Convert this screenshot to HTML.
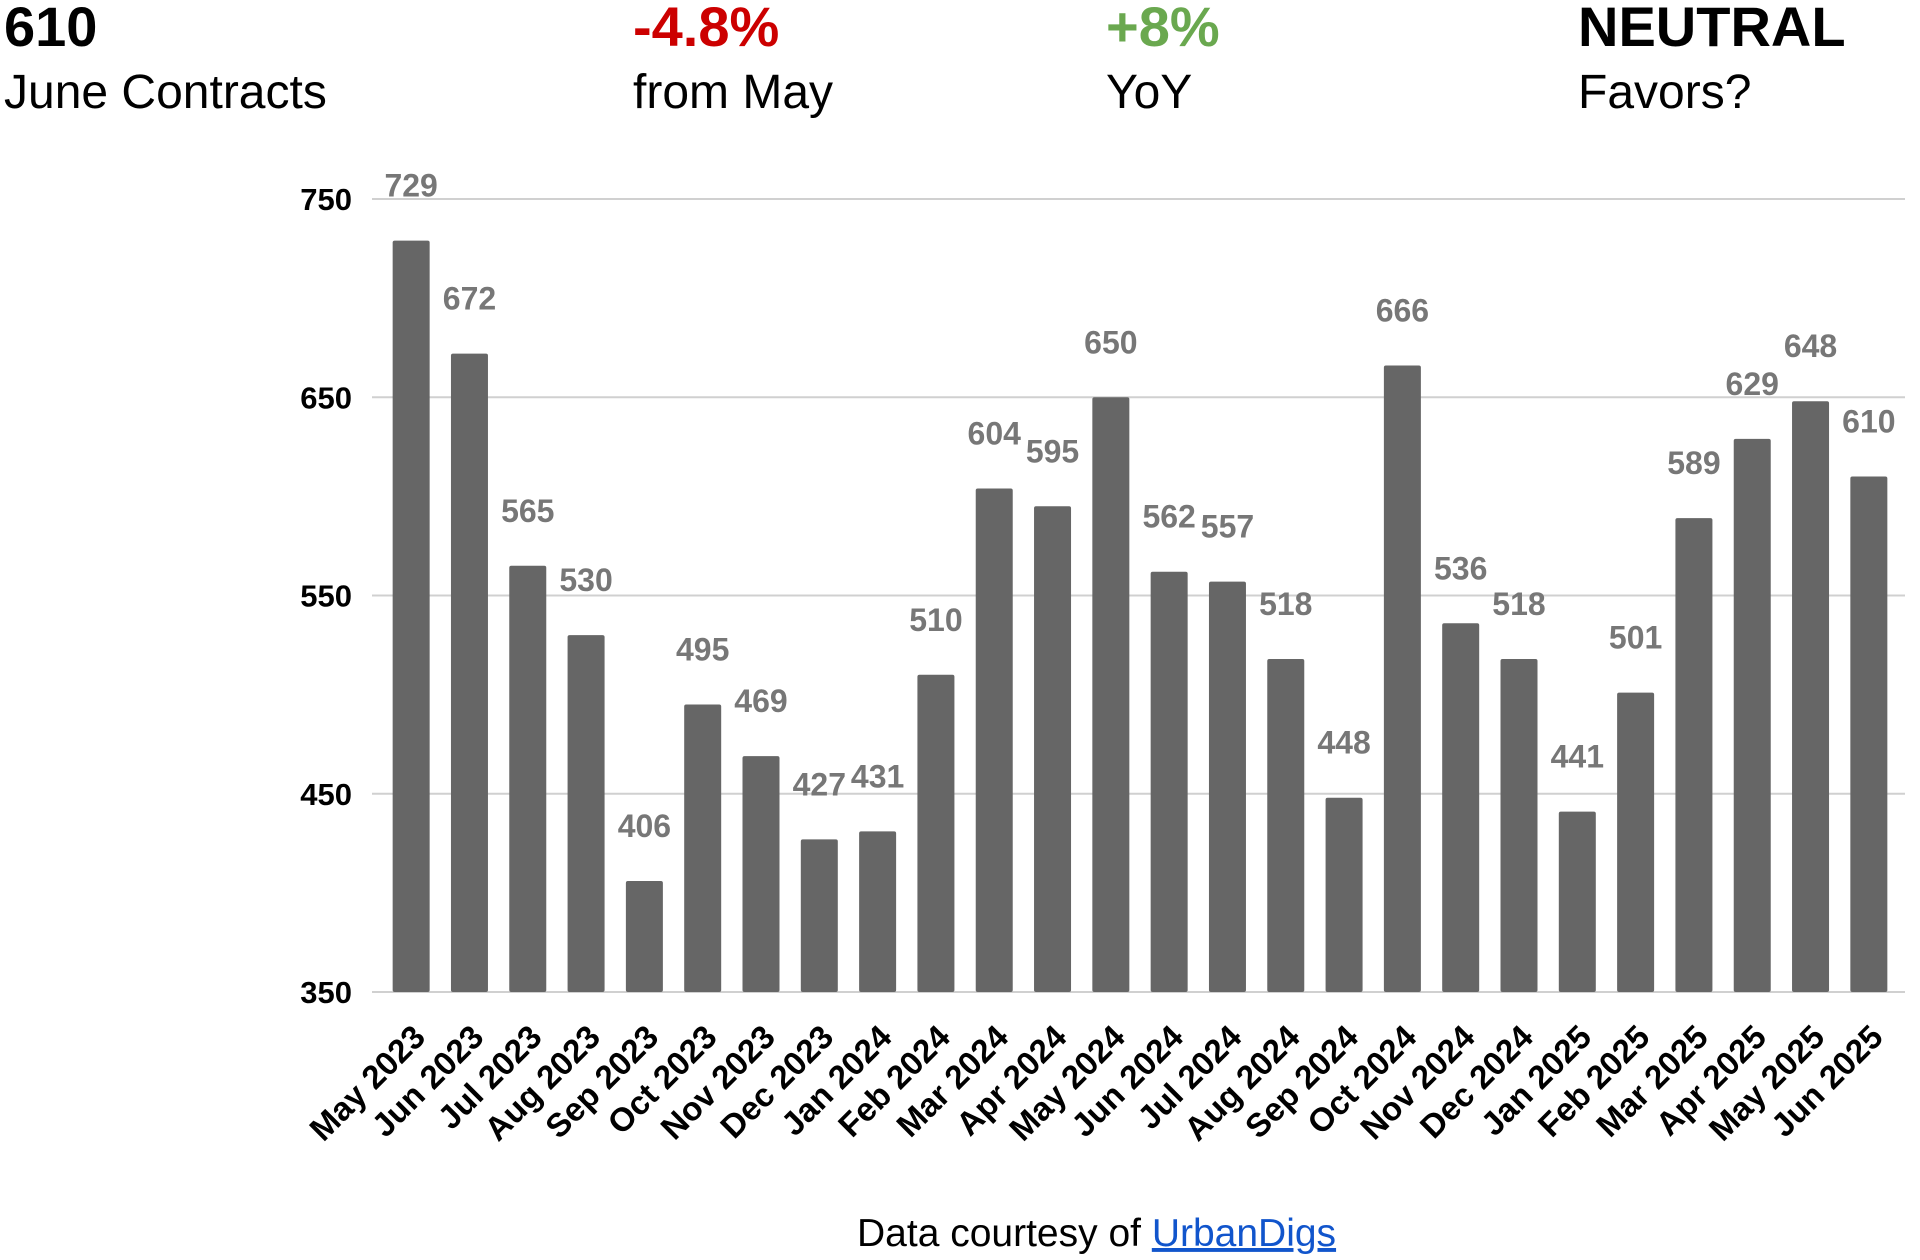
<!DOCTYPE html>
<html><head><meta charset="utf-8"><style>
html,body{margin:0;padding:0;background:#fff;width:1920px;height:1260px;overflow:hidden}
svg{display:block}
</style></head><body>
<svg id="chart" width="1920" height="1260" xmlns="http://www.w3.org/2000/svg">
<g font-family="Liberation Sans, Arial, sans-serif">
<text x="4" y="46" font-size="56" font-weight="bold" fill="#000">610</text>
<text x="4" y="108" font-size="48" fill="#000">June Contracts</text>
<text x="633" y="46" font-size="56" font-weight="bold" fill="#cc0000">-4.8%</text>
<text x="633" y="108" font-size="48" fill="#000">from May</text>
<text x="1106" y="46" font-size="56" font-weight="bold" fill="#6aa84f">+8%</text>
<text x="1106" y="108" font-size="48" fill="#000">YoY</text>
<text x="1578" y="46" font-size="56" font-weight="bold" fill="#000">NEUTRAL</text>
<text x="1578" y="108" font-size="48" fill="#000">Favors?</text>
<text x="857" y="1246" font-size="39" fill="#000">Data courtesy of <tspan fill="#1155cc" text-decoration="underline">UrbanDigs</tspan></text>
</g>
<g id="grid"></g>
<g id="bars"></g>
<g id="labels"></g>
</svg>
<script>
const categories = ["May 2023","Jun 2023","Jul 2023","Aug 2023","Sep 2023","Oct 2023","Nov 2023","Dec 2023","Jan 2024","Feb 2024","Mar 2024","Apr 2024","May 2024","Jun 2024","Jul 2024","Aug 2024","Sep 2024","Oct 2024","Nov 2024","Dec 2024","Jan 2025","Feb 2025","Mar 2025","Apr 2025","May 2025","Jun 2025"];
const values = [729,672,565,530,406,495,469,427,431,510,604,595,650,562,557,518,448,666,536,518,441,501,589,629,648,610];
const yTicks = [350,450,550,650,750];

const NS = "http://www.w3.org/2000/svg";
const yMin = 350, yMax = 750, yBottom = 992, yTop = 199;
const xStart = 382, xEnd = 1898, barW = 37;
function yScale(v){ return yBottom - (v - yMin) / (yMax - yMin) * (yBottom - yTop); }
function xCenter(i){ const band = (xEnd - xStart) / values.length; return xStart + band * (i + 0.5); }
function mk(tag, attrs, parent){ const e = document.createElementNS(NS, tag); for (const k in attrs) e.setAttribute(k, attrs[k]); parent.appendChild(e); return e; }

const grid = document.getElementById('grid');
yTicks.forEach(t => {
  const y = yScale(t);
  const line = mk('line', {x1: 372, x2: 1905, y1: y, y2: y, stroke: '#d0d0d0', 'stroke-width': 2}, grid);
  
  
  const tx = mk('text', {x: 352, y: y + 11, 'text-anchor': 'end', 'font-family': 'Liberation Sans, Arial, sans-serif', 'font-size': 31, 'font-weight': 'bold', fill: '#000'}, grid);
  tx.textContent = t;
  
  
});

const bars = document.getElementById('bars');
const labels = document.getElementById('labels');
values.forEach((v, i) => {
  const cx = xCenter(i), y = yScale(v);
  const r = mk('rect', {x: cx - barW / 2, y: y, width: barW, height: yBottom - y, rx: 2, fill: '#666666'}, bars);
  
  
  const vl = mk('text', {x: cx, y: y - 44, 'text-anchor': 'middle', 'font-family': 'Liberation Sans, Arial, sans-serif', 'font-size': 32, 'font-weight': 'bold', fill: '#777'}, labels);
  vl.textContent = v;
  
  
  const ax = cx + 16, ay = 1039;
  const xl = mk('text', {x: ax, y: ay, 'text-anchor': 'end', transform: 'rotate(-45 ' + ax + ' ' + ay + ')', 'font-family': 'Liberation Sans, Arial, sans-serif', 'font-size': 33, 'font-weight': 'bold', fill: '#000'}, labels);
  xl.textContent = categories[i];
  
  
});
</script>
</body></html>
